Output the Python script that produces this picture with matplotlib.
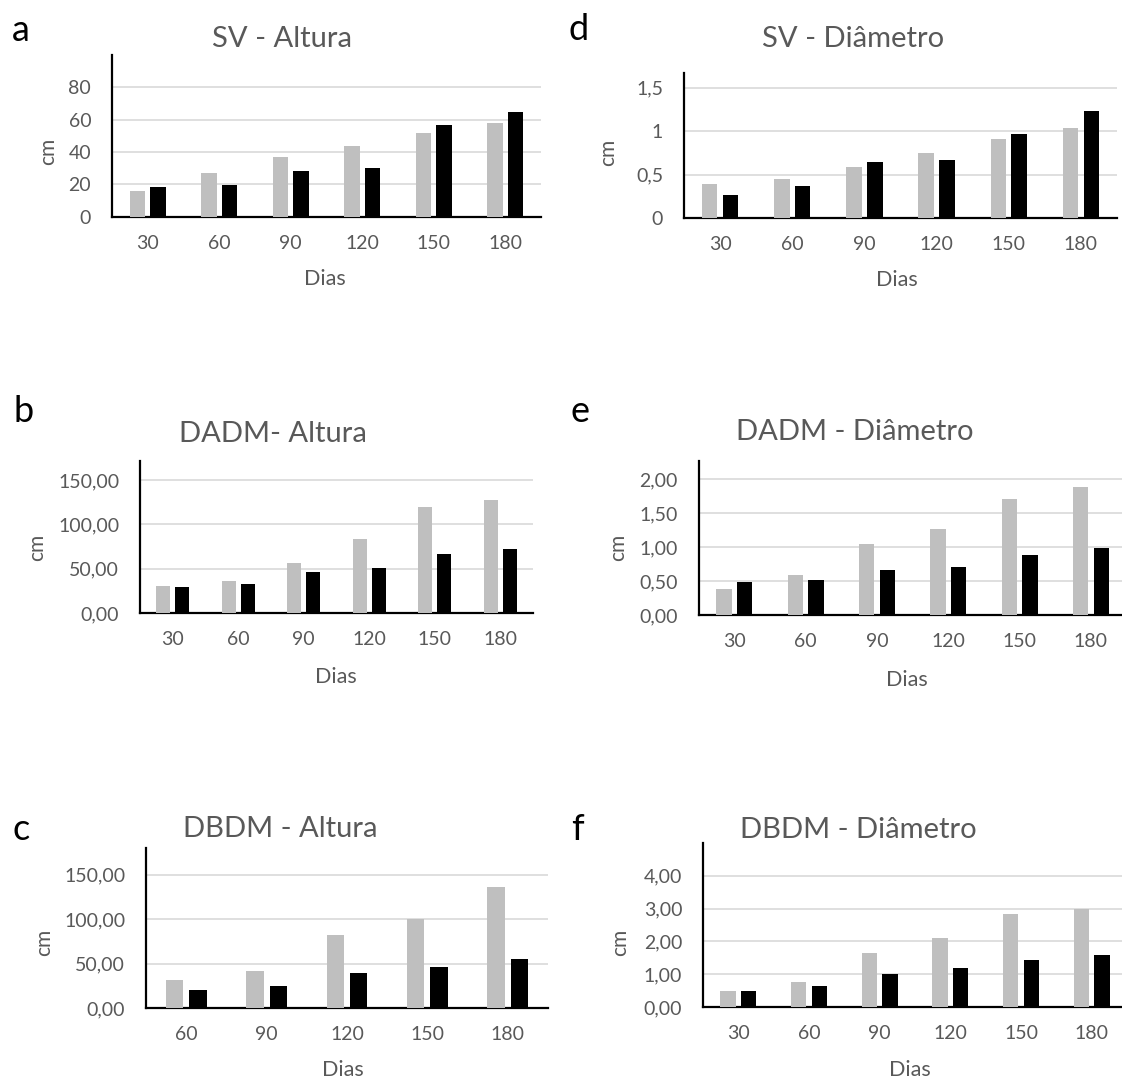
import matplotlib
matplotlib.use('Agg')
from matplotlib import pyplot as plt
import numpy as np

plt.rcParams['font.family'] = ['Lato', 'DejaVu Sans']

# dados (cinza = primeira serie, preto = segunda)
dias6 = ['30', '60', '90', '120', '150', '180']
dias5 = ['60', '90', '120', '150', '180']

sv_alt_cinza = [16.1, 26.8, 36.7, 43.9, 51.5, 58.1]
sv_alt_preto = [18.6, 19.6, 28.0, 30.3, 56.9, 64.5]

sv_diam_cinza = [0.39, 0.45, 0.59, 0.75, 0.91, 1.03]
sv_diam_preto = [0.27, 0.37, 0.65, 0.67, 0.97, 1.23]

dadm_alt_cinza = [30.7, 36.7, 56.4, 84.0, 119.3, 127.3]
dadm_alt_preto = [29.2, 33.0, 46.6, 50.8, 66.3, 72.3]

dadm_diam_cinza = [0.38, 0.585, 1.04, 1.27, 1.71, 1.88]
dadm_diam_preto = [0.48, 0.51, 0.66, 0.71, 0.89, 0.99]

dbdm_alt_cinza = [31.8, 41.5, 82.3, 99.9, 136.6]
dbdm_alt_preto = [20.2, 24.3, 39.3, 45.6, 55.0]

dbdm_diam_cinza = [0.48, 0.75, 1.64, 2.11, 2.85, 3.00]
dbdm_diam_preto = [0.48, 0.65, 1.01, 1.18, 1.43, 1.59]

yt_a = [0, 20, 40, 60, 80]
yl_a = ['0', '20', '40', '60', '80']
yt_d = [0, 0.5, 1, 1.5]
yl_d = ['0', '0,5', '1', '1,5']
yt_b = [0, 50, 100, 150]
yl_b = ['0,00', '50,00', '100,00', '150,00']
yt_e = [0, 0.5, 1, 1.5, 2]
yl_e = ['0,00', '0,50', '1,00', '1,50', '2,00']
yt_c = [0, 50, 100, 150]
yl_c = ['0,00', '50,00', '100,00', '150,00']
yt_f = [0, 1, 2, 3, 4]
yl_f = ['0,00', '1,00', '2,00', '3,00', '4,00']

W, H = 1122, 1081
CINZA = '#BFBFBF'
TXT = '#595959'

# letra, titulo, categorias, series, ylim, ticks, caixa do eixo (px: esq, topo, dir, base),
# posicoes: letra, titulo, cm, Dias
paineis = [
    ('a', 'SV - Altura', dias6, sv_alt_cinza, sv_alt_preto, 100, yt_a, yl_a,
     (112, 55, 541, 216.7), (12, 41), (282, 47), (54, 151), (325, 285)),
    ('d', 'SV - Diâmetro', dias6, sv_diam_cinza, sv_diam_preto, 1.67, yt_d, yl_d,
     (684, 72.7, 1117, 218.3), (569, 40), (853, 47), (614, 152), (897, 286)),
    ('b', 'DADM- Altura', dias6, dadm_alt_cinza, dadm_alt_preto, 172, yt_b, yl_b,
     (140, 460.7, 533, 613), (14, 422), (273, 442), (43, 547), (336, 683)),
    ('e', 'DADM - Diâmetro', dias6, dadm_diam_cinza, dadm_diam_preto, 2.27, yt_e, yl_e,
     (698.7, 460.7, 1126.5, 615), (571, 422), (855, 440), (624, 547), (907, 686)),
    ('c', 'DBDM - Altura', dias5, dbdm_alt_cinza, dbdm_alt_preto, 180, yt_c, yl_c,
     (146, 848, 548, 1008), (12, 840), (280, 837), (50, 942), (343, 1076)),
    ('f', 'DBDM - Diâmetro', dias6, dbdm_diam_cinza, dbdm_diam_preto, 5, yt_f, yl_f,
     (703, 843, 1127, 1007), (571, 840), (858, 838), (626, 942), (910, 1076)),
]

fig = plt.figure(figsize=(W / 100, H / 100), dpi=100)


def fx(x):
    return x / W


def fy(y):
    return 1 - y / H


larg = 0.215
desl = 0.145
for letra, titulo, cats, cinza, preto, ymax, yt, yl, caixa, pl, pt, pc, pd in paineis:
    esq, topo, dir_, base = caixa
    ax = fig.add_axes([fx(esq), fy(base), (dir_ - esq) / W, (base - topo) / H])
    x = np.arange(len(cats))
    ax.bar(x - desl, cinza, width=larg, color=CINZA, zorder=3)
    ax.bar(x + desl, preto, width=larg, color='black', zorder=3)
    ax.set_xlim(-0.5, len(cats) - 0.5)
    ax.set_ylim(0, ymax)
    ax.set_xticks(x)
    ax.set_xticklabels(cats)
    ax.set_yticks(yt)
    ax.set_yticklabels(yl)
    ax.tick_params(length=0, labelsize=14, labelcolor=TXT)
    ax.tick_params(axis='x', pad=13)
    ax.tick_params(axis='y', pad=15)
    ax.yaxis.grid(True, color='#D9D9D9', linewidth=1.2, zorder=0)
    ax.set_axisbelow(True)
    for s in ['top', 'right']:
        ax.spines[s].set_visible(False)
    for s in ['left', 'bottom']:
        ax.spines[s].set_linewidth(1.6)
        ax.spines[s].set_color('black')

    fig.text(fx(pl[0]), fy(pl[1]), letra, fontsize=26, color='black', ha='left', va='baseline')
    fig.text(fx(pt[0]), fy(pt[1]), titulo, fontsize=21, color=TXT, ha='center', va='baseline')
    fig.text(fx(pc[0]), fy(pc[1]), 'cm', fontsize=15, color=TXT, rotation=90,
             rotation_mode='anchor', ha='center', va='baseline')
    fig.text(fx(pd[0]), fy(pd[1]), 'Dias', fontsize=15.5, color=TXT, ha='center', va='baseline')

fig.savefig('out.png', dpi=100)
